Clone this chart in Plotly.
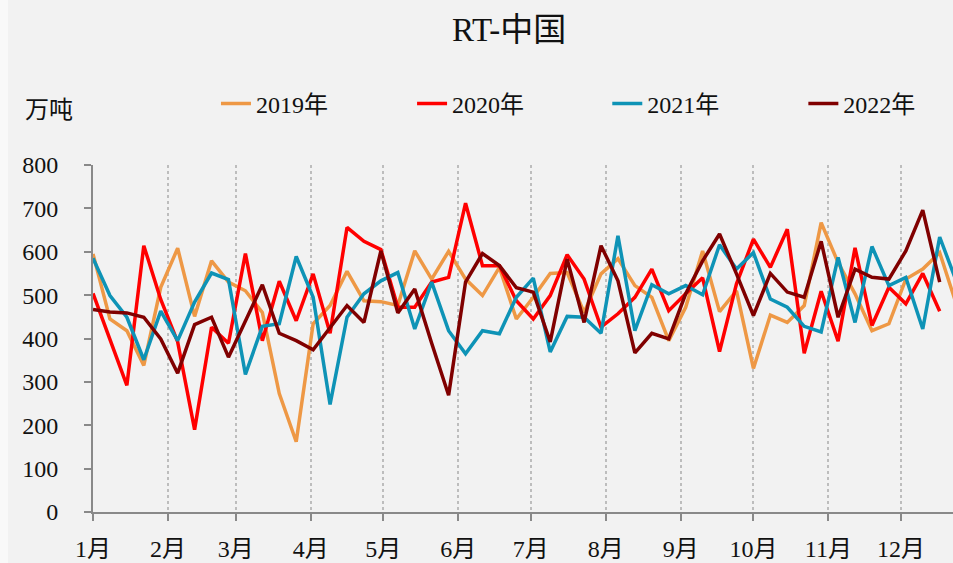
import pandas as pd
import plotly.graph_objects as go

# weekly values, 万吨
y2019 = [595, 445, 418, 338, 518, 608, 451, 579, 530, 510, 460, 273, 162, 434, 476, 555, 487, 485, 476, 602,
         537, 601, 537, 499, 564, 445, 495, 550, 552, 460, 549, 584, 522, 495, 395, 472, 602, 462, 510, 331,
         454, 437, 476, 667, 575, 503, 418, 434, 537, 560, 598, 477]
y2020 = [504, 398, 292, 614, 490, 392, 190, 426, 389, 596, 395, 532, 441, 549, 412, 656, 624, 605, 472, 472,
         530, 541, 712, 568, 568, 487, 445, 499, 593, 537, 426, 457, 495, 560, 464, 503, 540, 370, 526, 629,
         564, 652, 366, 509, 394, 609, 430, 518, 480, 550, 463]
y2021 = [585, 499, 449, 351, 463, 395, 484, 551, 536, 317, 428, 434, 589, 495, 248, 449, 503, 533, 552, 422,
         530, 418, 365, 418, 411, 495, 539, 369, 451, 449, 412, 637, 418, 524, 503, 522, 501, 616, 560, 598,
         491, 472, 428, 415, 587, 437, 612, 522, 541, 422, 634, 530]
y2022 = [467, 461, 459, 449, 399, 320, 432, 449, 357, 440, 524, 412, 395, 374, 426, 476, 437, 602, 459, 514,
         389, 269, 530, 596, 568, 517, 507, 392, 583, 437, 614, 533, 367, 412, 399, 503, 579, 641, 549, 453,
         550, 507, 495, 624, 449, 560, 541, 537, 602, 696, 530]

series = [
    ("2019年", y2019, "#EE9845"),
    ("2020年", y2020, "#FF0000"),
    ("2021年", y2021, "#0E93B6"),
    ("2022年", y2022, "#800000"),
]

month_ticks = pd.date_range("2022-01-01", periods=12, freq="MS")
month_labels = [f"{m}月" for m in range(1, 13)]

FONT = "Liberation Serif, Noto Sans CJK SC, serif"

# one legend box per year so the entries sit evenly spaced across the top
legend_ids = ["legend", "legend2", "legend3", "legend4"]
legend_x = [0.143, 0.371, 0.598, 0.826]

fig = go.Figure()
for (name, vals, color), lid in zip(series, legend_ids):
    # all years drawn on one calendar, one point per week
    x = pd.date_range("2022-01-01", periods=len(vals), freq="7D")
    fig.add_trace(go.Scatter(x=x, y=vals, name=name, mode="lines", legend=lid,
                             line=dict(color=color, width=3.5)))

legends = {
    lid: dict(orientation="h", x=lx, y=1.176, xanchor="left", yanchor="middle",
              font=dict(size=24), bgcolor="rgba(0,0,0,0)")
    for lid, lx in zip(legend_ids, legend_x)
}

fig.update_layout(
    width=953, height=563,
    margin=dict(l=93, r=0, t=165, b=51),
    paper_bgcolor="#F2F2F2",
    plot_bgcolor="#F2F2F2",
    font=dict(family=FONT, size=24, color="#111111"),
    showlegend=True,
    annotations=[
        dict(text="RT-中国", x=0.484, y=1.389, xref="paper", yref="paper",
             xanchor="center", yanchor="middle", showarrow=False, font=dict(size=33)),
        dict(text="万吨", x=-0.051, y=1.158, xref="paper", yref="paper",
             xanchor="center", yanchor="middle", showarrow=False, font=dict(size=24)),
    ],
    shapes=[
        # pale border strip at the left edge of the original picture
        dict(type="rect", xref="paper", yref="paper", x0=-0.1081, x1=-0.0988,
             y0=-0.147, y1=1.4755, fillcolor="#F9F9F9", line=dict(width=0), layer="below"),
    ],
    **legends,
)

fig.update_xaxes(
    type="date",
    range=["2022-01-01", "2022-12-22 12:00"],
    tickvals=month_ticks, ticktext=month_labels,
    showline=True, linecolor="#898989", linewidth=2,
    ticks="outside", ticklen=7, tickwidth=2, tickcolor="#898989",
    showgrid=True, gridcolor="#BDBDBD", gridwidth=1.5, griddash="dot",
    zeroline=False, ticklabelstandoff=7,
)
fig.update_yaxes(
    range=[0, 800], dtick=100,
    showline=True, linecolor="#898989", linewidth=2,
    ticks="outside", ticklen=7, tickwidth=2, tickcolor="#898989",
    showgrid=False, zeroline=False, ticklabelstandoff=21,
)

# chart fills the whole window, no page margin, scrollbars or modebar
fig.write_html("out.html",
               config={"displayModeBar": False},
               post_script="document.body.style.margin='0';"
                           "document.documentElement.style.overflow='hidden';")
